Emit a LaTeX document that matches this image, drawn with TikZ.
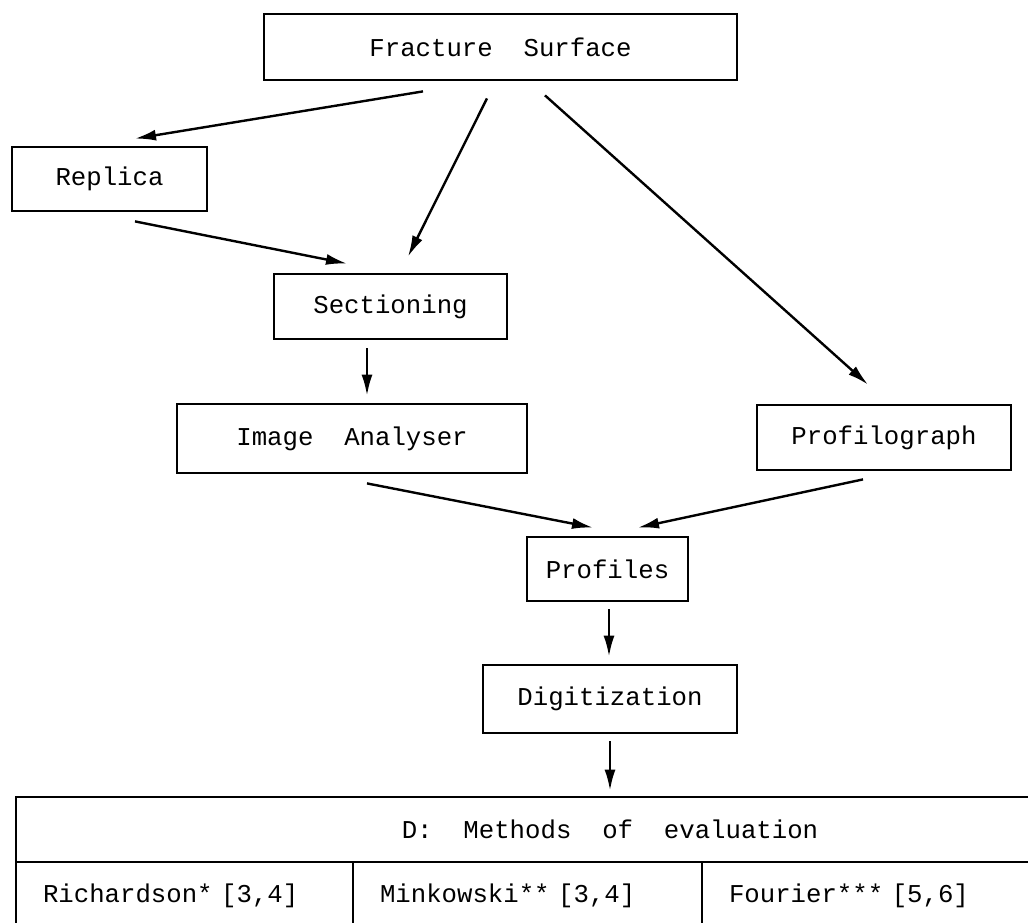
\documentclass[tikz,border=0pt]{standalone}
\usepackage{fontspec}
\setmonofont{Liberation Mono}
\usetikzlibrary{arrows.meta}

\tikzset{
  box/.style={draw, line width=2.8pt, inner sep=0pt,
    font=\ttfamily\fontsize{25.7}{30}\selectfont},
  cell/.style={box, align=left, inner xsep=27pt, minimum height=67pt},
  arr/.style={-{Latex[length=21pt,width=11pt]}, line width=2.4pt},
}

\begin{document}
\begin{tikzpicture}[x=1pt,y=-1pt]
\useasboundingbox (0,0) rectangle (1028,923);
\node[box, minimum width=473pt, minimum height=66pt] (v0) at (500.5,47) {Fracture\ \ Surface};
\node[box, minimum width=195pt, minimum height=64pt] (v1) at (109.5,179) {Replica};
\node[box, minimum width=233pt, minimum height=65pt] (v2) at (390.5,306.5) {Sectioning};
\node[box, minimum width=350pt, minimum height=69pt] (v3) at (352,438.5) {Image\ \ Analyser};
\node[box, minimum width=254pt, minimum height=65pt] (v4) at (884,437.5) {Profilograph};
\node[box, minimum width=161pt, minimum height=64pt] (v5) at (607.5,569) {Profiles};
\node[box, minimum width=254pt, minimum height=68pt] (v6) at (610,699) {Digitization};
\node[box, minimum width=1188pt, minimum height=65pt] (v7) at (610,829.5) {D:\ \ Methods\ \ of\ \ evaluation};
\node[cell, text width=283pt] (v8) at (184.5,895.5) {Richardson* [3,4]};
\node[cell, text width=295pt] (v9) at (527.5,895.5) {Minkowski** [3,4]};
\node[cell, text width=284pt] (v10) at (871,895.5) {Fourier*** [5,6]};
\draw [arr] ([xshift=-77.5pt,yshift=-10pt]v0.south) -- ([xshift=25.5pt,yshift=7pt]v1.north);
\draw [arr] ([xshift=-13.5pt,yshift=-17pt]v0.south) -- ([xshift=17.5pt,yshift=16pt]v2.north);
\draw [arr] ([xshift=44.5pt,yshift=-14pt]v0.south) -- ([xshift=-16pt,yshift=19pt]v4.north);
\draw [arr] ([xshift=25.5pt,yshift=-9pt]v1.south) -- ([xshift=-43.5pt,yshift=9pt]v2.north);
\draw [arr] ([xshift=-23.5pt,yshift=-8pt]v2.south) -- ([xshift=15pt,yshift=7pt]v3.north);
\draw [arr] ([xshift=15pt,yshift=-9pt]v3.south) -- ([xshift=-14.5pt,yshift=8pt]v5.north);
\draw [arr] ([xshift=-21pt,yshift=-8pt]v4.south) -- ([xshift=30.5pt,yshift=8pt]v5.north);
\draw [arr] ([xshift=1.5pt,yshift=-7pt]v5.south) -- ([xshift=-1pt,yshift=7pt]v6.north);
\draw [arr] ([yshift=-7pt]v6.south) -- ([yshift=5pt]v7.north);
\end{tikzpicture}
\end{document}
